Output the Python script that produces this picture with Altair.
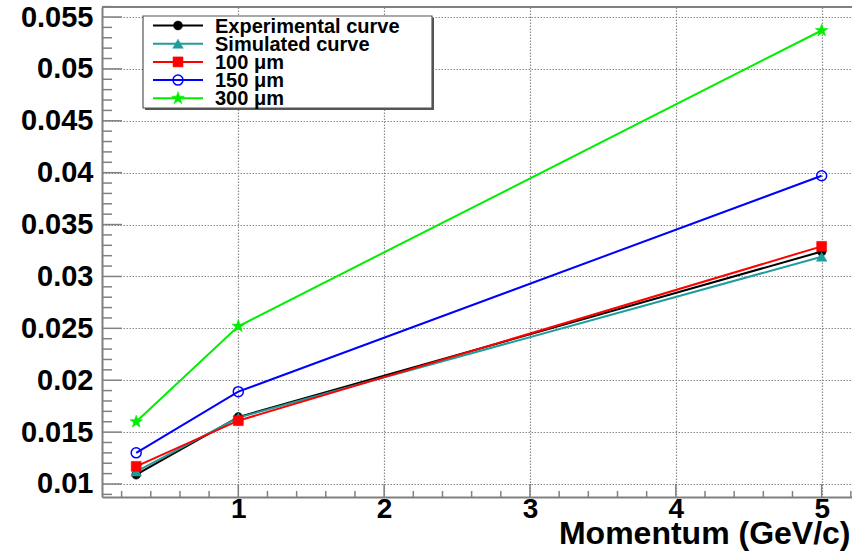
import altair as alt
import pandas as pd
import numpy as np

# ---- data ----
momentum = [0.3, 1.0, 5.0]
experimental = [0.0109, 0.01645, 0.0324]
simulated = [0.0112, 0.0164, 0.0319]
um100 = [0.0117, 0.0161, 0.0329]
um150 = [0.0130, 0.0189, 0.0397]
um300 = [0.0160, 0.0252, 0.0537]

series_names = ["Experimental curve", "Simulated curve", "100 μm", "150 μm", "300 μm"]
series_values = [experimental, simulated, um100, um150, um300]
series_colors = ["#000000", "#1f9c9c", "#ff0000", "#0000ff", "#00ee00"]
STAR = ("M0,-1L0.235,-0.324L0.951,-0.309L0.380,0.124L0.588,0.809L0,0.4"
        "L-0.588,0.809L-0.380,0.124L-0.951,-0.309L-0.235,-0.324Z")
series_shapes = ["circle", "triangle-up", "square", "circle", STAR]
series_filled = [True, True, True, False, True]
series_sizes = [80, 110, 100, 100, 180]

x_major = [1, 2, 3, 4, 5]
x_minor = [round(v, 1) for v in np.arange(0.2, 5.21, 0.2) if abs(v - round(v)) > 1e-6]
y_major = [0.01, 0.015, 0.02, 0.025, 0.03, 0.035, 0.04, 0.045, 0.05, 0.055]
y_minor = [round(v, 3) for v in np.arange(0.009, 0.0561, 0.001)
           if min(abs(v - m) for m in y_major) > 1e-6]

W, H = 750, 490
FONT = "Liberation Sans"
GRAY = "#808080"
GRID = "#8a8a8a"

xscale = alt.Scale(domain=[0.0655, 5.208], nice=False, zero=False)
yscale = alt.Scale(domain=[0.008747, 0.055964], nice=False, zero=False)

xaxis = alt.Axis(values=x_major, format="d", grid=True, gridDash=[1.5, 1.5], gridColor=GRID,
                 gridWidth=1.2, ticks=False, domainColor=GRAY, domainWidth=2,
                 labelFont=FONT, labelFontWeight="bold", labelFontSize=28, labelColor="black",
                 labelPadding=-2, labelBaseline="top",
                 title="Momentum (GeV/c)", titleFont=FONT, titleFontWeight="bold",
                 titleFontSize=32, titleColor="black", titleAnchor="end", titleAlign="right",
                 titleX=748, titleY=46, titleBaseline="alphabetic")
yaxis = alt.Axis(values=y_major, grid=True, gridDash=[1.5, 1.5], gridColor=GRID, gridWidth=1.2,
                 ticks=False, domainColor=GRAY, domainWidth=2,
                 labelFont=FONT, labelFontWeight="bold", labelFontSize=29, labelColor="black",
                 labelPadding=9, title=None, labelExpr="format(datum.value, '.3~f')")

X = alt.X("x:Q", scale=xscale, axis=xaxis)
Y = alt.Y("y:Q", scale=yscale, axis=yaxis)

layers = []

# tick marks (inside the frame)
ymaj = pd.DataFrame({"y": y_major})
ymin = pd.DataFrame({"y": y_minor})
xmaj = pd.DataFrame({"x": x_major})
xmin = pd.DataFrame({"x": x_minor})
layers.append(alt.Chart(ymaj).mark_rule(color=GRAY, strokeWidth=1.5).encode(
    y=Y, x=alt.value(0), x2=alt.value(20)))
layers.append(alt.Chart(ymin).mark_rule(color=GRAY, strokeWidth=1.5).encode(
    y=Y, x=alt.value(0), x2=alt.value(10)))
layers.append(alt.Chart(xmaj).mark_rule(color=GRAY, strokeWidth=1.5).encode(
    x=X, y=alt.value(H), y2=alt.value(H - 13)))
layers.append(alt.Chart(xmin).mark_rule(color=GRAY, strokeWidth=1.5).encode(
    x=X, y=alt.value(H), y2=alt.value(H - 6)))

# top frame line
layers.append(alt.Chart(pd.DataFrame({"a": [0]})).mark_rule(color=GRAY, strokeWidth=2).encode(
    x=alt.value(0), x2=alt.value(W), y=alt.value(0)))

# series
for name, vals, col, shp, filled, sz in zip(series_names, series_values, series_colors,
                                            series_shapes, series_filled, series_sizes):
    df = pd.DataFrame({"x": momentum, "y": vals, "series": name})
    layers.append(alt.Chart(df).mark_line(color=col, strokeWidth=2).encode(x=X, y=Y))
    if filled:
        pt = alt.Chart(df).mark_point(shape=shp, size=sz, filled=True, fill=col,
                                      stroke=col, opacity=1, strokeWidth=0.5)
    else:
        pt = alt.Chart(df).mark_point(shape=shp, size=sz, filled=False, fill=None,
                                      stroke=col, opacity=1, strokeWidth=1.5)
    layers.append(pt.encode(x=X, y=Y))

# legend box
one = pd.DataFrame({"a": [0]})
LX0, LX1, LY0, LY1 = 41, 330, 9, 101
layers.append(alt.Chart(one).mark_rect(color="#555555").encode(
    x=alt.value(LX0 + 2), x2=alt.value(LX1 + 2), y=alt.value(LY0 + 2), y2=alt.value(LY1 + 2)))
layers.append(alt.Chart(one).mark_rect(fill="white", stroke="#555555", strokeWidth=1.2).encode(
    x=alt.value(LX0), x2=alt.value(LX1), y=alt.value(LY0), y2=alt.value(LY1)))

row_y0, row_step = 18.5, 18.2
for i, (name, col, shp, filled, sz) in enumerate(zip(series_names, series_colors, series_shapes,
                                                    series_filled, series_sizes)):
    ry = row_y0 + i * row_step
    layers.append(alt.Chart(one).mark_rule(color=col, strokeWidth=2).encode(
        x=alt.value(51), x2=alt.value(101), y=alt.value(ry)))
    if filled:
        pt = alt.Chart(one).mark_point(shape=shp, size=sz, filled=True, fill=col, stroke=col,
                                       opacity=1, strokeWidth=0.5)
    else:
        pt = alt.Chart(one).mark_point(shape=shp, size=sz, filled=False, fill=None, stroke=col,
                                       opacity=1, strokeWidth=1.5)
    layers.append(pt.encode(x=alt.value(76), y=alt.value(ry)))
    layers.append(alt.Chart(one).mark_text(text=name, font=FONT, fontWeight="bold", fontSize=20,
                                           align="left", baseline="middle", color="black").encode(
        x=alt.value(113), y=alt.value(ry + 1)))

chart = alt.layer(*layers).properties(
    width=W, height=H,
    autosize=alt.AutoSizeParams(type="none"),
    padding={"left": 102, "top": 7, "right": 0, "bottom": 54},
    background="white",
).configure_view(stroke=None)

chart.save("out.html", embed_options={"renderer": "svg", "actions": False})
